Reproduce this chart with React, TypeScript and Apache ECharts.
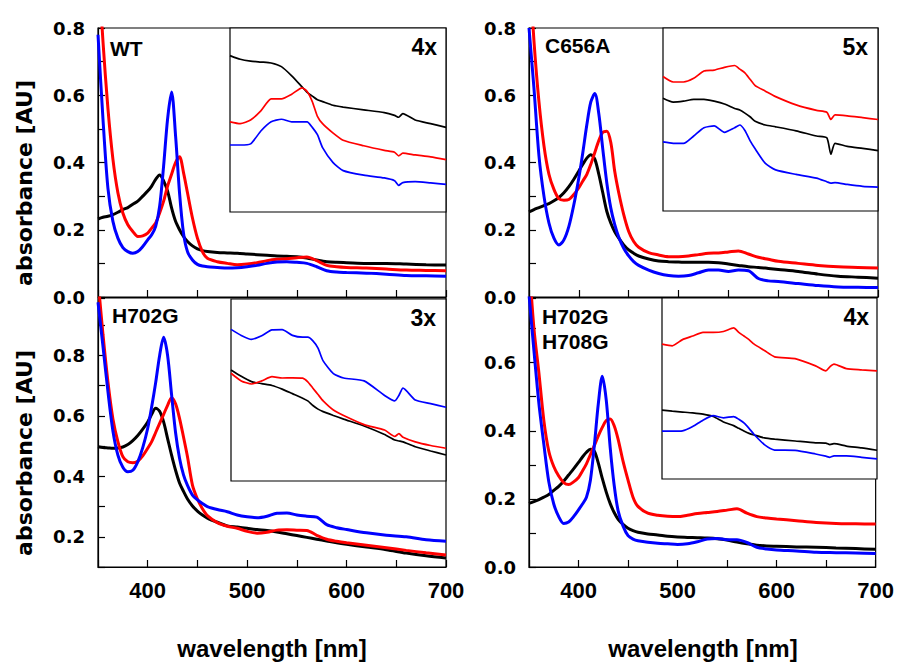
import React, { useEffect, useRef } from "react";
import * as echarts from "echarts";

// Main wavelength grid (nm)
const WL = [350, 355, 360, 365, 370, 375, 380, 385, 390, 395, 400, 404, 408, 412, 416, 420, 424, 428, 432, 436, 440, 445, 450, 455, 460, 470, 480, 490, 500, 510, 520, 530, 540, 550, 560, 570, 580, 590, 600, 620, 640, 660, 680, 700];

// WT
const WT_BLACK = [0.232, 0.237, 0.24, 0.245, 0.252, 0.26, 0.266, 0.276, 0.285, 0.3, 0.315, 0.33, 0.35, 0.363, 0.345, 0.315, 0.265, 0.225, 0.2, 0.18, 0.165, 0.152, 0.143, 0.138, 0.135, 0.132, 0.131, 0.13, 0.128, 0.126, 0.124, 0.122, 0.121, 0.12, 0.116, 0.11, 0.105, 0.103, 0.102, 0.1, 0.1, 0.098, 0.096, 0.095];
const WT_RED = [1.0, 0.76, 0.56, 0.41, 0.31, 0.25, 0.215, 0.195, 0.18, 0.182, 0.19, 0.205, 0.22, 0.25, 0.285, 0.33, 0.365, 0.4, 0.417, 0.37, 0.31, 0.235, 0.175, 0.135, 0.115, 0.105, 0.1, 0.096, 0.098, 0.102, 0.108, 0.112, 0.114, 0.117, 0.119, 0.108, 0.094, 0.09, 0.088, 0.086, 0.083, 0.08, 0.079, 0.078];
const WT_BLUE = [0.78, 0.53, 0.323, 0.225, 0.175, 0.147, 0.135, 0.13, 0.135, 0.15, 0.17, 0.185, 0.21, 0.27, 0.39, 0.53, 0.61, 0.48, 0.31, 0.19, 0.135, 0.11, 0.097, 0.092, 0.09, 0.088, 0.086, 0.087, 0.09, 0.094, 0.1, 0.104, 0.105, 0.103, 0.1, 0.09, 0.078, 0.074, 0.073, 0.071, 0.068, 0.064, 0.063, 0.062];

// C656A
const C656A_BLACK = [0.253, 0.26, 0.266, 0.272, 0.278, 0.286, 0.296, 0.31, 0.328, 0.35, 0.375, 0.395, 0.413, 0.423, 0.41, 0.365, 0.31, 0.255, 0.22, 0.194, 0.175, 0.155, 0.14, 0.13, 0.122, 0.113, 0.107, 0.105, 0.104, 0.103, 0.103, 0.103, 0.102, 0.098, 0.094, 0.09, 0.088, 0.085, 0.082, 0.076, 0.068, 0.062, 0.059, 0.056];
const C656A_RED = [1.0, 0.76, 0.58, 0.45, 0.365, 0.32, 0.292, 0.288, 0.29, 0.305, 0.325, 0.345, 0.365, 0.395, 0.43, 0.465, 0.49, 0.493, 0.46, 0.373, 0.31, 0.245, 0.195, 0.165, 0.148, 0.132, 0.125, 0.12, 0.12, 0.122, 0.126, 0.13, 0.131, 0.134, 0.137, 0.128, 0.118, 0.112, 0.106, 0.1, 0.094, 0.09, 0.088, 0.086];
const C656A_BLUE = [0.8, 0.62, 0.42, 0.3, 0.22, 0.175, 0.155, 0.17, 0.21, 0.275, 0.355, 0.43, 0.512, 0.58, 0.605, 0.545, 0.44, 0.34, 0.265, 0.215, 0.178, 0.145, 0.122, 0.105, 0.094, 0.08, 0.07, 0.064, 0.062, 0.064, 0.072, 0.08, 0.08, 0.076, 0.08, 0.078, 0.055, 0.048, 0.046, 0.04, 0.034, 0.03, 0.029, 0.028];

// H702G
const H702G_BLACK = [0.498, 0.495, 0.494, 0.493, 0.494, 0.497, 0.505, 0.518, 0.535, 0.556, 0.58, 0.605, 0.625, 0.615, 0.58, 0.525, 0.47, 0.42, 0.378, 0.35, 0.325, 0.302, 0.285, 0.272, 0.262, 0.248, 0.236, 0.232, 0.228, 0.224, 0.221, 0.216, 0.21, 0.204, 0.198, 0.192, 0.186, 0.18, 0.175, 0.166, 0.157, 0.146, 0.137, 0.13];
const H702G_RED = [1.05, 0.87, 0.712, 0.59, 0.515, 0.465, 0.448, 0.445, 0.45, 0.468, 0.493, 0.515, 0.545, 0.575, 0.605, 0.635, 0.66, 0.64, 0.592, 0.53, 0.465, 0.371, 0.325, 0.293, 0.27, 0.247, 0.235, 0.228, 0.218, 0.212, 0.215, 0.222, 0.223, 0.222, 0.221, 0.205, 0.192, 0.185, 0.18, 0.172, 0.164, 0.155, 0.147, 0.14];
const H702G_BLUE = [0.976, 0.83, 0.68, 0.55, 0.47, 0.43, 0.415, 0.42, 0.448, 0.495, 0.559, 0.63, 0.71, 0.8, 0.86, 0.8, 0.67, 0.545, 0.46, 0.405, 0.37, 0.338, 0.322, 0.31, 0.3, 0.29, 0.283, 0.272, 0.266, 0.263, 0.268, 0.278, 0.279, 0.272, 0.268, 0.265, 0.24, 0.23, 0.224, 0.213, 0.205, 0.2, 0.19, 0.185];

// H702G H708G
const DBL_BLACK = [0.187, 0.192, 0.198, 0.205, 0.213, 0.225, 0.237, 0.252, 0.27, 0.288, 0.307, 0.323, 0.337, 0.346, 0.34, 0.305, 0.26, 0.22, 0.186, 0.16, 0.14, 0.125, 0.114, 0.107, 0.102, 0.097, 0.094, 0.09, 0.088, 0.087, 0.086, 0.085, 0.083, 0.079, 0.073, 0.068, 0.064, 0.062, 0.061, 0.059, 0.058, 0.056, 0.054, 0.052];
const DBL_RED = [0.9, 0.7, 0.57, 0.43, 0.34, 0.295, 0.267, 0.248, 0.242, 0.25, 0.263, 0.282, 0.303, 0.33, 0.357, 0.385, 0.41, 0.43, 0.435, 0.415, 0.375, 0.31, 0.255, 0.205, 0.178, 0.158, 0.152, 0.149, 0.148, 0.152, 0.157, 0.16, 0.163, 0.167, 0.171, 0.158, 0.148, 0.144, 0.141, 0.136, 0.131, 0.128, 0.127, 0.126];
const DBL_BLUE = [0.8, 0.635, 0.48, 0.36, 0.25, 0.185, 0.148, 0.128, 0.132, 0.148, 0.168, 0.185, 0.205, 0.255, 0.358, 0.48, 0.56, 0.49, 0.35, 0.24, 0.165, 0.12, 0.092, 0.082, 0.077, 0.073, 0.07, 0.068, 0.066, 0.068, 0.074, 0.082, 0.084, 0.08, 0.08, 0.072, 0.058, 0.053, 0.05, 0.047, 0.043, 0.042, 0.041, 0.04];

// Inset wavelength grid (nm) and magnified traces (inset units, 0 = bottom, 1 = top)
const INSET_WL = [490, 500, 510, 520, 530, 540, 550, 560, 565, 570, 575, 580, 590, 600, 620, 640, 650, 654, 658, 670, 685, 700];

const WT_IN_BLACK = [0.85, 0.83, 0.82, 0.815, 0.81, 0.79, 0.74, 0.68, 0.65, 0.63, 0.61, 0.6, 0.58, 0.57, 0.555, 0.54, 0.525, 0.515, 0.535, 0.5, 0.48, 0.46];
const WT_IN_RED = [0.49, 0.48, 0.5, 0.55, 0.615, 0.615, 0.64, 0.675, 0.655, 0.6, 0.52, 0.48, 0.43, 0.39, 0.36, 0.335, 0.325, 0.305, 0.32, 0.31, 0.3, 0.285];
const WT_IN_BLUE = [0.364, 0.364, 0.37, 0.44, 0.49, 0.504, 0.49, 0.49, 0.49, 0.46, 0.42, 0.35, 0.27, 0.225, 0.2, 0.185, 0.17, 0.145, 0.16, 0.165, 0.158, 0.15];

const C656A_IN_BLACK = [0.616, 0.595, 0.6, 0.61, 0.61, 0.6, 0.585, 0.56, 0.552, 0.535, 0.515, 0.49, 0.47, 0.46, 0.438, 0.41, 0.4, 0.31, 0.37, 0.353, 0.342, 0.33];
const C656A_IN_RED = [0.735, 0.705, 0.705, 0.725, 0.765, 0.77, 0.785, 0.795, 0.775, 0.755, 0.72, 0.685, 0.655, 0.625, 0.58, 0.55, 0.54, 0.5, 0.525, 0.52, 0.51, 0.5];
const C656A_IN_BLUE = [0.378, 0.37, 0.369, 0.41, 0.455, 0.465, 0.43, 0.455, 0.47, 0.44, 0.385, 0.34, 0.26, 0.225, 0.2, 0.18, 0.16, 0.152, 0.155, 0.145, 0.135, 0.13];

const H702G_IN_BLACK = [0.61, 0.575, 0.546, 0.535, 0.525, 0.505, 0.48, 0.455, 0.44, 0.415, 0.395, 0.381, 0.36, 0.34, 0.302, 0.255, 0.225, 0.22, 0.215, 0.188, 0.165, 0.143];
const H702G_IN_RED = [0.592, 0.55, 0.533, 0.55, 0.573, 0.566, 0.567, 0.565, 0.545, 0.51, 0.475, 0.44, 0.39, 0.36, 0.31, 0.28, 0.245, 0.26, 0.24, 0.215, 0.195, 0.18];
const H702G_IN_BLUE = [0.833, 0.8, 0.778, 0.798, 0.83, 0.832, 0.8, 0.79, 0.79, 0.77, 0.73, 0.66, 0.59, 0.566, 0.55, 0.47, 0.44, 0.47, 0.51, 0.445, 0.425, 0.405];

const DBL_IN_BLACK = [0.381, 0.375, 0.37, 0.365, 0.358, 0.345, 0.315, 0.295, 0.28, 0.265, 0.252, 0.243, 0.227, 0.22, 0.21, 0.2, 0.198, 0.19, 0.195, 0.182, 0.172, 0.159];
const DBL_IN_RED = [0.745, 0.736, 0.77, 0.79, 0.81, 0.81, 0.815, 0.835, 0.81, 0.79, 0.77, 0.745, 0.71, 0.675, 0.665, 0.625, 0.597, 0.62, 0.635, 0.61, 0.603, 0.597];
const DBL_IN_BLUE = [0.264, 0.264, 0.266, 0.29, 0.325, 0.35, 0.338, 0.345, 0.33, 0.31, 0.28, 0.246, 0.19, 0.16, 0.158, 0.138, 0.126, 0.12, 0.128, 0.128, 0.12, 0.111];

const PANEL_LABELS = ["WT", "C656A", "H702G", "H702G", "H708G"];
const MAGNIFICATIONS = ["4x", "5x", "3x", "4x"];
const Y_TITLE = "absorbance [AU]";
const X_TITLE = "wavelength [nm]";

const BLACK = "#000000";
const RED = "#ff0000";
const BLUE = "#0000ff";
const FONT_Y = "DejaVu Sans";
const FONT_A = "Liberation Sans";

const pairs = (xs: number[], ys: number[]) => xs.map((x, i) => [x, ys[i]]);

export default function App() {
  const ref = useRef<HTMLDivElement>(null);
  useEffect(() => {
    if (!ref.current) return;
    const chart = echarts.init(ref.current, undefined, { renderer: "svg" });

    const mainGrids = [
      { left: 98, top: 28, width: 348, height: 269 },
      { left: 529, top: 28, width: 349, height: 269 },
      { left: 98, top: 298, width: 348, height: 269 },
      { left: 529, top: 298, width: 348, height: 269 },
    ];
    const insetGrids = [
      { left: 230, top: 28, width: 216, height: 184 },
      { left: 663, top: 28, width: 215, height: 183 },
      { left: 231, top: 299, width: 215, height: 182 },
      { left: 662, top: 298, width: 215, height: 181 },
    ];
    const grid: any[] = [
      ...mainGrids.map((g) => ({ ...g, show: true, borderColor: "#000", borderWidth: 1.2, backgroundColor: "transparent", containLabel: false })),
      ...insetGrids.map((g) => ({ ...g, show: true, borderColor: "#000", borderWidth: 1.2, backgroundColor: "#fff", containLabel: false })),
    ];

    const yRanges = [
      [0, 0.8],
      [0, 0.8],
      [0.1, 0.99],
      [0, 0.79],
    ];

    const xAxis: any[] = [];
    const yAxis: any[] = [];
    for (let i = 0; i < 4; i++) {
      xAxis.push({
        type: "value",
        gridIndex: i,
        min: 350,
        max: 700,
        interval: 50,
        splitLine: { show: false },
        axisLine: { show: true, lineStyle: { color: "#000", width: 1.2 } },
        axisTick: { show: true, inside: true, length: 7, lineStyle: { color: "#000", width: 1.2 } },
        axisLabel: {
          show: i >= 2,
          margin: 12,
          fontFamily: FONT_A,
          fontWeight: "bold",
          fontSize: 22,
          color: "#000",
          formatter: (v: number) => (v % 100 === 0 ? String(v) : ""),
        },
      });
      yAxis.push({
        type: "value",
        gridIndex: i,
        min: yRanges[i][0],
        max: yRanges[i][1],
        interval: 0.1,
        splitLine: { show: false },
        axisLine: { show: true, lineStyle: { color: "#000", width: 1.2 } },
        axisTick: { show: true, inside: true, length: 7, lineStyle: { color: "#000", width: 1.2 } },
        axisLabel: {
          show: true,
          margin: 13,
          fontFamily: FONT_Y,
          fontWeight: "bold",
          fontSize: 18,
          color: "#000",
          formatter: (v: number) => (Math.abs(v * 5 - Math.round(v * 5)) < 1e-6 ? v.toFixed(1) : ""),
        },
      });
    }
    for (let i = 0; i < 4; i++) {
      xAxis.push({ type: "value", gridIndex: 4 + i, min: 490, max: 700, show: false, splitLine: { show: false } });
      yAxis.push({ type: "value", gridIndex: 4 + i, min: 0, max: 1, show: false, splitLine: { show: false } });
    }

    const mainSets = [
      [WT_BLACK, WT_RED, WT_BLUE],
      [C656A_BLACK, C656A_RED, C656A_BLUE],
      [H702G_BLACK, H702G_RED, H702G_BLUE],
      [DBL_BLACK, DBL_RED, DBL_BLUE],
    ];
    const insetSets = [
      [WT_IN_BLACK, WT_IN_RED, WT_IN_BLUE],
      [C656A_IN_BLACK, C656A_IN_RED, C656A_IN_BLUE],
      [H702G_IN_BLACK, H702G_IN_RED, H702G_IN_BLUE],
      [DBL_IN_BLACK, DBL_IN_RED, DBL_IN_BLUE],
    ];
    const colors = [BLACK, RED, BLUE];
    const series: any[] = [];
    mainSets.forEach((set, p) => {
      set.forEach((vals, k) => {
        series.push({
          type: "line",
          xAxisIndex: p,
          yAxisIndex: p,
          data: pairs(WL, vals),
          showSymbol: false,
          symbol: "none",
          smooth: 0.3,
          clip: true,
          lineStyle: { color: colors[k], width: 3 },
          z: 3,
        });
      });
    });
    insetSets.forEach((set, p) => {
      set.forEach((vals, k) => {
        series.push({
          type: "line",
          xAxisIndex: 4 + p,
          yAxisIndex: 4 + p,
          data: pairs(INSET_WL, vals),
          showSymbol: false,
          symbol: "none",
          smooth: 0.2,
          clip: true,
          lineStyle: { color: colors[k], width: 1.7 },
          z: 4,
        });
      });
    });

    const txt = (text: string, x: number, y: number, size: number, align: string, font: string, rotation = 0) => ({
      type: "text",
      x,
      y,
      rotation,
      z: 10,
      style: { text, fill: "#000", fontFamily: font, fontWeight: "bold", fontSize: size, align, verticalAlign: "middle" },
    });

    const graphic: any[] = [
      txt(PANEL_LABELS[0], 110, 48, 21, "left", FONT_A),
      txt(PANEL_LABELS[1], 545, 45, 21, "left", FONT_A),
      txt(PANEL_LABELS[2], 112, 315, 21, "left", FONT_A),
      txt(PANEL_LABELS[3], 542, 316, 21, "left", FONT_A),
      txt(PANEL_LABELS[4], 542, 341, 21, "left", FONT_A),
      txt(MAGNIFICATIONS[0], 437, 47, 23, "right", FONT_A),
      txt(MAGNIFICATIONS[1], 868, 47, 23, "right", FONT_A),
      txt(MAGNIFICATIONS[2], 436, 318, 23, "right", FONT_A),
      txt(MAGNIFICATIONS[3], 869, 317, 23, "right", FONT_A),
      txt(Y_TITLE, 24, 183, 22, "center", FONT_Y, Math.PI / 2),
      txt(Y_TITLE, 24, 453, 22, "center", FONT_Y, Math.PI / 2),
      txt(X_TITLE, 272, 648, 24, "center", FONT_A),
      txt(X_TITLE, 703, 648, 24, "center", FONT_A),
    ];

    chart.setOption({
      animation: false,
      backgroundColor: "#fff",
      grid,
      xAxis,
      yAxis,
      series,
      graphic,
    });
    return () => chart.dispose();
  }, []);

  return <div ref={ref} style={{ position: "fixed", left: 0, top: 0, width: 897, height: 664 }} />;
}
